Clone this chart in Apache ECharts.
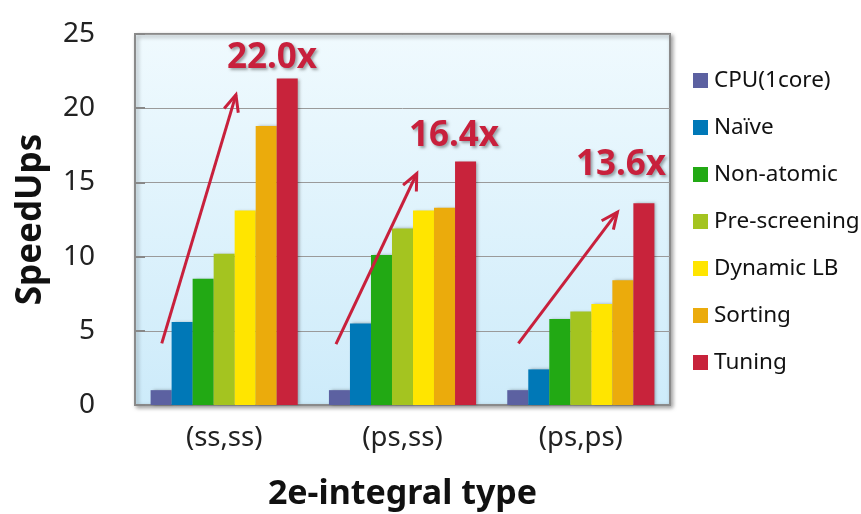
<!DOCTYPE html>
<html>
<head>
<meta charset="utf-8">
<script src="https://cdn.jsdelivr.net/npm/echarts@6/dist/echarts.min.js"></script>
<style>html,body{margin:0;padding:0;background:#fff}#c{width:861px;height:514px}</style>
</head>
<body>
<div id="c"></div>
<script>
const categories = ['(ss,ss)', '(ps,ss)', '(ps,ps)'];
const seriesNames = ['CPU(1core)', 'Naïve', 'Non-atomic', 'Pre-screening', 'Dynamic LB', 'Sorting', 'Tuning'];
const cpu = [1.0, 1.0, 1.0];
const naive = [5.6, 5.5, 2.4];
const nonAtomic = [8.5, 10.1, 5.8];
const preScreening = [10.2, 11.9, 6.3];
const dynamicLB = [13.1, 13.1, 6.8];
const sorting = [18.8, 13.3, 8.4];
const tuning = [22.0, 16.4, 13.6];
const yTicks = [0, 5, 10, 15, 20, 25];
// annotation arrows: [catPos0, value0, catPos1, value1] (category position 0..3)
const arrows = [[0.15, 4.15, 0.566, 20.9], [1.127, 4.1, 1.58, 15.6], [2.15, 4.15, 2.705, 13.0]];
// speedup labels: [catPos, value, text]
const speedLabels = [[0.768, 23.4, '22.0x'], [1.789, 18.15, '16.4x'], [2.725, 16.2, '13.6x']];

const colors = ['#5c61a1', '#0078b7', '#22a914', '#a4c420', '#ffe500', '#ebab0c', '#c8233b'];
const values = [cpu, naive, nonAtomic, preScreening, dynamicLB, sorting, tuning];
const FONT = '"Noto Sans", "Open Sans", sans-serif';
const RED = '#c8203c';

const barSeries = seriesNames.map((n, i) => ({
  name: n, type: 'bar', data: values[i], barGap: '0%', barCategoryGap: '17.5%',
  itemStyle: { color: colors[i], shadowColor: 'rgba(0,0,0,0.3)', shadowBlur: 3, shadowOffsetX: 2, shadowOffsetY: 0 }
}));

const chart = echarts.init(document.getElementById('c'), null, { renderer: 'canvas' });
chart.setOption({
  animation: false,
  color: colors,
  grid: {
    left: 135, right: 191, top: 34, bottom: 109, show: true,
    outerBoundsMode: 'none', containLabel: false,
    backgroundColor: new echarts.graphic.LinearGradient(0, 0, 0, 1, [
      { offset: 0, color: '#f0fafe' }, { offset: 1, color: '#cdebfa' }]),
    borderColor: '#8a8a8a', borderWidth: 2,
    shadowColor: 'rgba(0,0,0,0.35)', shadowBlur: 4, shadowOffsetX: 2, shadowOffsetY: 2
  },
  legend: {
    orient: 'vertical', left: 688, top: 64, itemWidth: 15, itemHeight: 15, itemGap: 24,
    icon: 'rect', data: seriesNames,
    textStyle: { fontFamily: FONT, fontSize: 22.5, color: '#111', padding: [0, 0, 0, 1] }
  },
  xAxis: [{
    type: 'category', data: categories,
    name: '2e-integral type', nameLocation: 'middle', nameGap: 72,
    nameTextStyle: { fontFamily: FONT, fontSize: 34, fontWeight: 'bold', color: '#111' },
    axisLine: { lineStyle: { color: '#8a8a8a', width: 2 } },
    axisTick: { length: 12, lineStyle: { color: '#aaa', width: 2 } },
    axisLabel: { fontFamily: FONT, fontSize: 27.5, color: '#222', margin: 19 }
  }, {
    type: 'value', min: 0, max: 3, show: false
  }],
  yAxis: {
    type: 'value', min: 0, max: 25, interval: 5,
    name: 'SpeedUps', nameLocation: 'middle', nameGap: 86,
    nameTextStyle: { fontFamily: FONT, fontSize: 35, fontWeight: 'bold', color: '#111' },
    axisLine: { show: true, lineStyle: { color: '#8a8a8a', width: 2 } },
    axisTick: { show: true, inside: true, length: 10, lineStyle: { color: '#888', width: 2 } },
    axisLabel: { fontFamily: FONT, fontSize: 28, color: '#222', margin: 40,
      formatter: v => yTicks.includes(v) ? String(v) : '' },
    splitLine: { lineStyle: { color: '#9a9a9a', width: 1 } }
  },
  series: barSeries.concat([{
    type: 'custom', xAxisIndex: 1, yAxisIndex: 0, data: arrows, z: 5, silent: true,
    encode: { x: [0, 2], y: [1, 3] },
    renderItem: (params, api) => {
      const p0 = api.coord([api.value(0), api.value(1)]);
      const p1 = api.coord([api.value(2), api.value(3)]);
      const ang = Math.atan2(p0[1] - p1[1], p0[0] - p1[0]);
      const L = 18, th = 0.42;
      const h1 = [p1[0] + L * Math.cos(ang + th), p1[1] + L * Math.sin(ang + th)];
      const h2 = [p1[0] + L * Math.cos(ang - th), p1[1] + L * Math.sin(ang - th)];
      const st = { stroke: RED, lineWidth: 3, fill: null, lineJoin: 'miter' };
      return { type: 'group', children: [
        { type: 'polyline', shape: { points: [p0, p1] }, style: st },
        { type: 'polyline', shape: { points: [h1, p1, h2] }, style: st }
      ] };
    }
  }, {
    type: 'custom', xAxisIndex: 1, yAxisIndex: 0, data: speedLabels, z: 6, silent: true,
    encode: { x: 0, y: 1 },
    renderItem: (params, api) => {
      const p = api.coord([api.value(0), api.value(1)]);
      return { type: 'text', x: p[0], y: p[1], style: {
        text: speedLabels[params.dataIndex][2], fill: RED,
        fontFamily: FONT, fontSize: 35, fontWeight: 'bold',
        align: 'center', verticalAlign: 'middle',
        textShadowColor: 'rgba(0,0,0,0.35)', textShadowBlur: 3, textShadowOffsetX: 2, textShadowOffsetY: 2
      } };
    }
  }])
});
</script>
</body>
</html>
